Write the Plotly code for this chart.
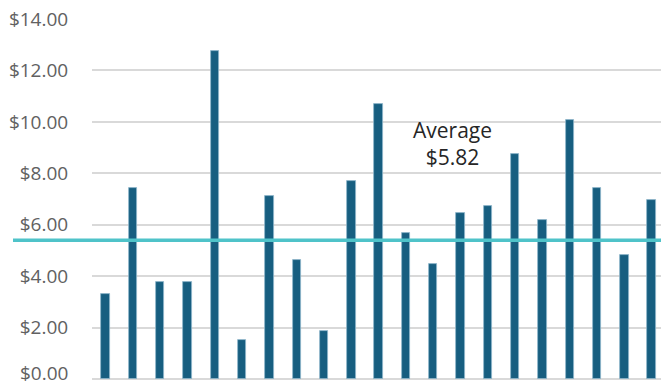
import plotly.graph_objects as go

categories = [str(i) for i in range(1, 22)]
values = [3.32, 7.41, 3.77, 3.79, 12.76, 1.53, 7.12, 4.64, 1.88, 7.70, 10.69,
          5.69, 4.49, 6.47, 6.71, 8.74, 6.20, 10.06, 7.44, 4.84, 6.98]
average_line = 5.40
average_label = "Average<br>$5.82"
y_ticks = [0, 2, 4, 6, 8, 10, 12, 14]
y_tick_labels = ["$%.2f" % v for v in y_ticks]

W, H = 661, 385
ML, MR, MT, MB = 92, 0, 19, 6
plot_w = W - ML - MR
FONT = "Open Sans, sans-serif"
TICK_FONT = dict(family=FONT, size=19, color="#616161")

fig = go.Figure()
fig.add_trace(go.Bar(
    x=categories, y=values,
    marker=dict(color="#175E80", line=dict(color="#8FB6CB", width=0.8)),
    width=0.31,
))

fig.add_shape(type="line", xref="paper", yref="y",
              x0=(13 - ML) / plot_w, x1=1.0, y0=average_line, y1=average_line,
              line=dict(color="#4FC3C9", width=3.5), layer="above")

fig.add_annotation(x=12.7, y=9.15, xref="x", yref="y", text=average_label,
                   showarrow=False, align="center",
                   font=dict(family=FONT, size=21, color="#262626"))

# bottom tick label is nudged up so it stays inside the picture (as in the reference)
fig.add_annotation(x=0, y=y_ticks[0], xref="paper", yref="y",
                   text=y_tick_labels[0], showarrow=False, borderpad=0,
                   xanchor="right", yanchor="middle", xshift=-23, yshift=6,
                   font=TICK_FONT)

fig.update_layout(
    width=W, height=H,
    margin=dict(l=ML, r=MR, t=MT, b=MB, pad=0, autoexpand=False),
    paper_bgcolor="white", plot_bgcolor="white",
    showlegend=False,
    bargap=0,
    font=dict(family=FONT),
)
fig.update_xaxes(type="category", range=[-0.5, -0.5 + plot_w / 27.3],
                 showticklabels=False, showgrid=False, zeroline=False, ticks="",
                 automargin=False)
fig.update_yaxes(range=[0, 14], tickvals=y_ticks,
                 ticktext=[""] + y_tick_labels[1:],
                 showgrid=True, gridcolor="#D9D9D9", gridwidth=2,
                 zeroline=True, zerolinecolor="#D9D9D9", zerolinewidth=2,
                 ticks="outside", ticklen=19, tickcolor="rgba(0,0,0,0)",
                 ticklabeloverflow="allow", automargin=False,
                 tickfont=TICK_FONT)

fig.write_html("out.html")
